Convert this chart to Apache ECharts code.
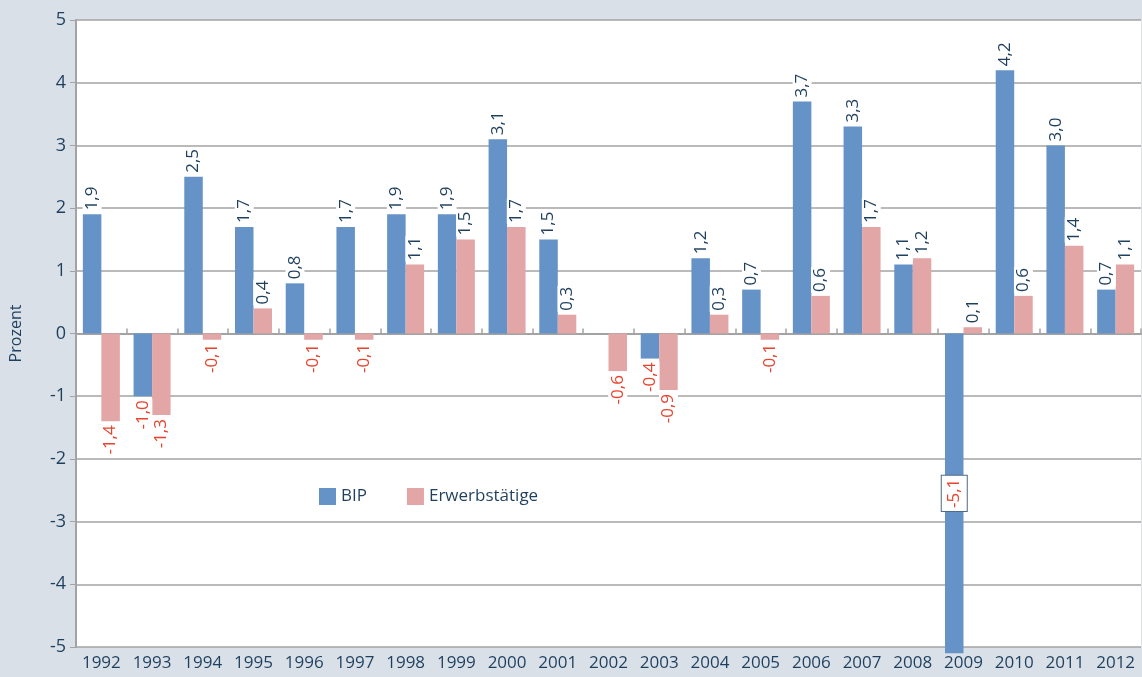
<!DOCTYPE html>
<html>
<head>
<meta charset="utf-8">
<script src="https://cdn.jsdelivr.net/npm/echarts@6/dist/echarts.min.js"></script>
<style>
  html, body { margin: 0; padding: 0; background: #d9e0e7; }
  #main { width: 1142px; height: 677px; }
</style>
</head>
<body>
<div id="main"></div>
<script type="text/javascript">

    var years = ["1992", "1993", "1994", "1995", "1996", "1997", "1998", "1999", "2000", "2001", "2002",
        "2003", "2004", "2005", "2006", "2007", "2008", "2009", "2010", "2011", "2012"];
    var bip = [1.9, -1.0, 2.5, 1.7, 0.8, 1.7, 1.9, 1.9, 3.1, 1.5, 0.0,
        -0.4, 1.2, 0.7, 3.7, 3.3, 1.1, -5.1, 4.2, 3.0, 0.7];
    var erwerb = [-1.4, -1.3, -0.1, 0.4, -0.1, -0.1, 1.1, 1.5, 1.7, 0.3, -0.6,
        -0.9, 0.3, -0.1, 0.6, 1.7, 1.2, 0.1, 0.6, 1.4, 1.1];
    var yTicks = [-5, -4, -3, -2, -1, 0, 1, 2, 3, 4, 5];

    var textBlue = '#1e3f5e';
    var textRed = '#e8432c';
    var font = 'Open Sans';

    function fmt(v) {
        return v.toFixed(1).replace('.', ',');
    }

    // label oben bzw. unten am Balkenende, gedreht
    function makeData(values) {
        return values.map(function (v) {
            if (v === 0) {
                return { value: v, label: { show: false } };
            }
            if (v < yTicks[0]) {
                // Wert ausserhalb der Skala: Label im Balken mit Rahmen
                return {
                    value: v,
                    label: {
                        position: 'inside',
                        align: 'center',
                        verticalAlign: 'middle',
                        color: textRed,
                        backgroundColor: '#fff',
                        borderColor: '#4d6a86',
                        borderWidth: 1,
                        padding: [4, 3, 4, 3]
                    }
                };
            }
            if (v < 0) {
                return {
                    value: v,
                    label: { position: 'bottom', align: 'right', color: textRed, distance: 3 }
                };
            }
            return {
                value: v,
                label: { position: 'top', align: 'left', color: textBlue, distance: 3 }
            };
        });
    }

    var baseLabel = {
        show: true,
        rotate: 90,
        verticalAlign: 'middle',
        fontFamily: font,
        fontSize: 17,
        backgroundColor: '#fff',
        padding: [1, 1, 1, 1],
        formatter: function (p) { return fmt(p.value); }
    };

    var chart = echarts.init(document.getElementById('main'));

    var option = {
        backgroundColor: '#d9e0e7',
        animation: false,
        textStyle: { fontFamily: font },
        grid: {
            left: 76, right: 1, top: 20, bottom: 30,
            show: true, backgroundColor: '#fff', borderWidth: 0
        },
        legend: {
            left: 314, top: 483,
            itemWidth: 17, itemHeight: 17, itemGap: 40,
            icon: 'rect',
            textStyle: { color: textBlue, fontSize: 17, fontFamily: font },
            data: ['BIP', 'Erwerbstätige']
        },
        xAxis: [{
            type: 'category',
            data: years,
            axisLine: { show: false, onZero: false },
            axisTick: { show: false },
            axisLabel: { color: textBlue, fontSize: 17, margin: 8, interval: 0 }
        }, {
            type: 'category',
            data: years,
            axisLine: { show: true, onZero: true, lineStyle: { color: '#a3a3a3', width: 2 } },
            axisTick: { show: true, length: 5, lineStyle: { color: '#a3a3a3', width: 1.5 } },
            axisLabel: { show: false }
        }],
        yAxis: {
            type: 'value',
            min: yTicks[0],
            max: yTicks[yTicks.length - 1],
            interval: 1,
            name: 'Prozent',
            nameLocation: 'middle',
            nameGap: 52,
            nameTextStyle: { color: textBlue, fontSize: 16 },
            axisLine: { show: true, lineStyle: { color: '#a3a3a3', width: 2 } },
            axisTick: { show: true, length: 6, lineStyle: { color: '#a3a3a3' } },
            axisLabel: { color: textBlue, fontSize: 18, margin: 10 },
            splitLine: { lineStyle: { color: '#a3a3a3', width: 1.5 } }
        },
        series: [{
            name: 'BIP',
            type: 'bar',
            xAxisIndex: 0,
            data: makeData(bip),
            barWidth: 18.5,
            barGap: '0%',
            clip: false,
            itemStyle: { color: '#6693c7' },
            label: baseLabel,
            z: 3
        }, {
            name: 'Erwerbstätige',
            type: 'bar',
            xAxisIndex: 0,
            data: makeData(erwerb),
            barWidth: 18.5,
            barGap: '0%',
            clip: false,
            itemStyle: { color: '#e2a6a6' },
            label: baseLabel,
            z: 3
        }]
    };

    chart.setOption(option);
</script>
</body>
</html>
